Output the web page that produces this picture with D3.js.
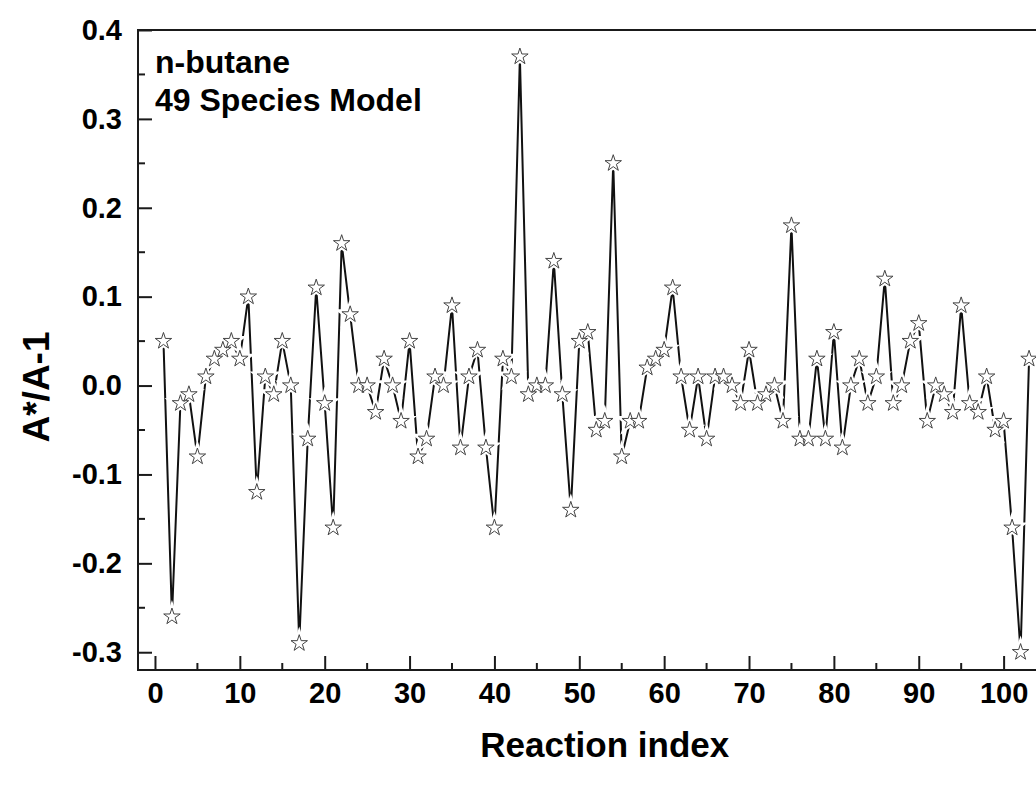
<!DOCTYPE html>
<html>
<head>
<meta charset="utf-8">
<script src="https://cdn.jsdelivr.net/npm/d3@7"></script>
<style>
  html, body { margin: 0; padding: 0; background: #fff; overflow: hidden; }
  svg { display: block; }
  text { font-family: "Liberation Sans", Arial, sans-serif; font-weight: bold; fill: #000; }
</style>
</head>
<body>
<script>
// Relative change of the pre-exponential factor for each reaction (n-butane, 49 species model)
const reactionIndex = d3.range(1, 104);
const ratioChange = [
   0.05, -0.26, -0.02, -0.01, -0.08,  0.01,  0.03,  0.04,  0.05,  0.03,
   0.10, -0.12,  0.01, -0.01,  0.05,  0.00, -0.29, -0.06,  0.11, -0.02,
  -0.16,  0.16,  0.08,  0.00,  0.00, -0.03,  0.03,  0.00, -0.04,  0.05,
  -0.08, -0.06,  0.01,  0.00,  0.09, -0.07,  0.01,  0.04, -0.07, -0.16,
   0.03,  0.01,  0.37, -0.01,  0.00,  0.00,  0.14, -0.01, -0.14,  0.05,
   0.06, -0.05, -0.04,  0.25, -0.08, -0.04, -0.04,  0.02,  0.03,  0.04,
   0.11,  0.01, -0.05,  0.01, -0.06,  0.01,  0.01,  0.00, -0.02,  0.04,
  -0.02, -0.01,  0.00, -0.04,  0.18, -0.06, -0.06,  0.03, -0.06,  0.06,
  -0.07,  0.00,  0.03, -0.02,  0.01,  0.12, -0.02,  0.00,  0.05,  0.07,
  -0.04,  0.00, -0.01, -0.03,  0.09, -0.02, -0.03,  0.01, -0.05, -0.04,
  -0.16, -0.30,  0.03
];

const xTickValues = [0, 10, 20, 30, 40, 50, 60, 70, 80, 90, 100];
const xTickLabels = ["0", "10", "20", "30", "40", "50", "60", "70", "80", "90", "100"];
const xMinorValues = [5, 15, 25, 35, 45, 55, 65, 75, 85, 95, 105];
const yTickValues = [-0.3, -0.2, -0.1, 0.0, 0.1, 0.2, 0.3, 0.4];
const yTickLabels = ["-0.3", "-0.2", "-0.1", "0.0", "0.1", "0.2", "0.3", "0.4"];
const yMinorValues = [-0.25, -0.15, -0.05, 0.05, 0.15, 0.25, 0.35];
const noteLines = ["n-butane", "49 Species Model"];

const W = 1036, H = 789;
const plot = { left: 138, top: 30, right: 1071.5, bottom: 670 };

const svg = d3.select("body").append("svg").attr("width", W).attr("height", H);
svg.append("rect").attr("width", W).attr("height", H).attr("fill", "#fff");

const x = d3.scaleLinear().domain([-2, 108]).range([plot.left, plot.right]);
const y = d3.scaleLinear().domain([-0.32, 0.4]).range([plot.bottom, plot.top]);

const data = reactionIndex.map((r, i) => ({ r, v: ratioChange[i] }));

// connecting line
svg.append("path")
  .datum(data)
  .attr("fill", "none")
  .attr("stroke", "#111")
  .attr("stroke-width", 2)
  .attr("stroke-linejoin", "miter")
  .attr("d", d3.line().x(d => x(d.r)).y(d => y(d.v)));

// star markers: white halo first so the line breaks around each symbol
const star = d3.symbol(d3.symbolStar, 84);
const marks = svg.append("g");
marks.selectAll("path.halo").data(data).join("path")
  .attr("class", "halo")
  .attr("transform", d => `translate(${x(d.r)},${y(d.v)})`)
  .attr("d", star)
  .attr("fill", "#fff").attr("stroke", "#fff").attr("stroke-width", 5);
marks.selectAll("path.mark").data(data).join("path")
  .attr("class", "mark")
  .attr("transform", d => `translate(${x(d.r)},${y(d.v)})`)
  .attr("d", star)
  .attr("fill", "#fff").attr("stroke", "#444").attr("stroke-width", 1);

// frame
const frameColor = "#1a1a1a";
svg.append("path")
  .attr("d", `M${plot.right},${plot.top}H${plot.left}V${plot.bottom}H${plot.right}`)
  .attr("fill", "none").attr("stroke", frameColor).attr("stroke-width", 2);

// y axis ticks (inward) and labels
const yAxis = d3.axisLeft(y).tickValues(yTickValues)
  .tickFormat((d, i) => yTickLabels[i]).tickSizeInner(-14).tickSizeOuter(0).tickPadding(30);
const gy = svg.append("g").attr("transform", `translate(${plot.left},0)`).call(yAxis);
gy.select(".domain").remove();
gy.selectAll(".tick line").attr("stroke", frameColor).attr("stroke-width", 2);
gy.selectAll(".tick text").attr("font-size", 29).attr("font-family", "Liberation Sans, Arial, sans-serif")
  .attr("font-weight", "bold").attr("fill", "#000").attr("x", -16);
svg.append("g").selectAll("line").data(yMinorValues).join("line")
  .attr("x1", plot.left).attr("x2", plot.left + 7)
  .attr("y1", d => y(d)).attr("y2", d => y(d))
  .attr("stroke", frameColor).attr("stroke-width", 2);

// x axis ticks (inward) and labels
const xAxis = d3.axisBottom(x).tickValues(xTickValues)
  .tickFormat((d, i) => xTickLabels[i]).tickSizeInner(-14).tickSizeOuter(0).tickPadding(12);
const gx = svg.append("g").attr("transform", `translate(0,${plot.bottom})`).call(xAxis);
gx.select(".domain").remove();
gx.selectAll(".tick line").attr("stroke", frameColor).attr("stroke-width", 2);
gx.selectAll(".tick text").attr("font-size", 29).attr("font-family", "Liberation Sans, Arial, sans-serif")
  .attr("font-weight", "bold").attr("fill", "#000").attr("y", 12);
svg.append("g").selectAll("line").data(xMinorValues).join("line")
  .attr("x1", d => x(d)).attr("x2", d => x(d))
  .attr("y1", plot.bottom).attr("y2", plot.bottom - 7)
  .attr("stroke", frameColor).attr("stroke-width", 2);

// axis titles
svg.append("text")
  .attr("x", (plot.left + plot.right) / 2).attr("y", 757)
  .attr("text-anchor", "middle").attr("font-size", 35)
  .text("Reaction index");
svg.append("text")
  .attr("transform", "translate(49,387) rotate(-90)")
  .attr("text-anchor", "middle").attr("font-size", 37)
  .text("A*/A-1");

// annotation
svg.append("g").selectAll("text").data(noteLines).join("text")
  .attr("x", 155).attr("y", (d, i) => 73 + i * 38)
  .attr("font-size", 32)
  .text(d => d);
</script>
</body>
</html>
